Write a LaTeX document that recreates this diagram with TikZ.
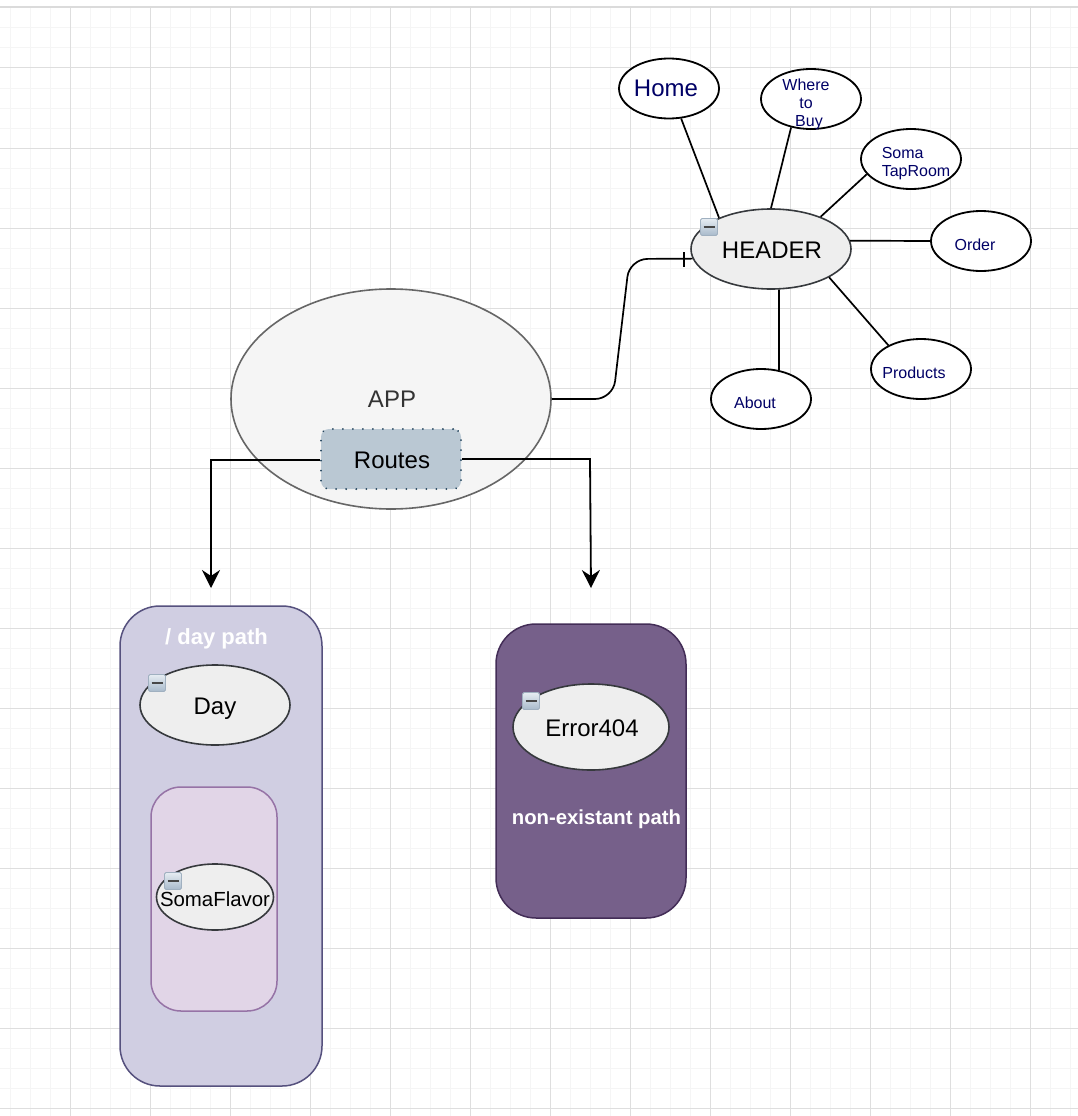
\documentclass[tikz,border=0pt]{standalone}
\usepackage{fontspec}
\setmainfont{Liberation Sans}
\usetikzlibrary{arrows.meta,shapes.geometric}
\definecolor{leafblue}{HTML}{000066}
\definecolor{compfill}{HTML}{EEEEEE}
\definecolor{compline}{HTML}{36393D}
\definecolor{appfill}{HTML}{F5F5F5}
\definecolor{appline}{HTML}{666666}
\definecolor{apptext}{HTML}{333333}
\definecolor{routefill}{HTML}{BAC8D3}
\definecolor{routeline}{HTML}{23445D}
\definecolor{dayfill}{HTML}{D0CEE2}
\definecolor{dayline}{HTML}{56517E}
\definecolor{flavorfill}{HTML}{E1D5E7}
\definecolor{flavorline}{HTML}{9673A6}
\definecolor{errorfill}{HTML}{76608A}
\definecolor{errorline}{HTML}{432D57}
\definecolor{icontop}{HTML}{E6ECF2}
\definecolor{iconbottom}{HTML}{A8BACB}
\definecolor{iconedge}{HTML}{A0B0C0}
\tikzset{
  fs/.style={font=\fontsize{#1}{#1}\selectfont},
  fsb/.style={font=\fontsize{#1}{#1}\selectfont\bfseries},
  leaf/.style={ellipse,draw=black,fill=white,line width=1.8pt,minimum width=100pt,minimum height=60pt,inner sep=0pt},
  leaftext/.style={text=leafblue,align=center,inner sep=0pt,font=\fontsize{16}{18}\selectfont},
  comp/.style={ellipse,draw=compline,fill=compfill,line width=1.6pt,inner sep=0pt,text=black,fs=24,text height=18pt,text depth=0pt},
  group/.style={rectangle,inner sep=0pt,line width=1.5pt},
  link/.style={draw=black,line width=1.7pt},
  route/.style={draw=black,line width=1.8pt,-{Stealth[length=18pt,width=18pt,inset=6pt]}},
  icon/.style={rectangle,rounded corners=1.5pt,minimum size=17pt,inner sep=0pt,draw=iconedge,line width=.9pt,top color=icontop,bottom color=iconbottom},
  iconbar/.style={draw=black!72,line width=2.4pt},
  minorgrid/.style={draw=black!4,line width=1pt},
  majorgrid/.style={draw=black!13,line width=1pt},
}
\newcommand{\minusicon}[3]{%
  \node[icon] (#1) at (#2,#3) {};
  \draw[iconbar] ([xshift=-5.5pt]#1.center) -- ([xshift=5.5pt]#1.center);
}
\begin{document}
\begin{tikzpicture}[x=1pt,y=-1pt]
\useasboundingbox (0,0) rectangle (1078,1116);
\fill[white] (0,0) rectangle (1078,1116);
% grid
\foreach \x in {10,30,...,1070} \draw[minorgrid] (\x,8) -- (\x,1116);
\foreach \y in {28,48,...,1108} \draw[minorgrid] (0,\y) -- (1078,\y);
\foreach \x in {70,150,...,1070} \draw[majorgrid] (\x,8) -- (\x,1116);
\foreach \y in {68,148,...,1108} \draw[majorgrid] (0,\y) -- (1078,\y);
\draw[draw=black!14,line width=2pt] (0,7) -- (1078,7);

% APP
\node[ellipse,draw=appline,fill=appfill,line width=1.6pt,minimum width=320pt,minimum height=220pt,inner sep=0pt] (app) at (391,399) {};
\node[text=apptext,fs=24,inner sep=0pt] (applabel) at (392,399) {APP};
\node[rectangle,rounded corners=8pt,draw=routeline,fill=routefill,dash pattern=on 0.01pt off 10pt,line cap=round,line width=2pt,minimum width=140pt,minimum height=60pt,inner sep=0pt,fs=24,text=black,text height=18pt,text depth=0pt] (routes) at (391,459) {\hspace*{2pt}Routes};

% leaves
\node[leaf] (home) at (669,88.5) {};
\node[leaf] (where) at (811,99) {};
\node[leaf] (soma) at (911,159) {};
\node[leaf] (order) at (981,241) {};
\node[leaf] (products) at (921,369) {};
\node[leaf] (about) at (761,399) {};
\node[comp,minimum width=160pt,minimum height=80pt] (header) at (771,249) {\makebox[0pt]{\hspace*{2pt}HEADER}};

\node[leaftext,fs=24] (hometext) at (666,88) {Home};
\node[leaftext] (wheretext) at (806,104) {Where\\to\\\hspace*{6pt}Buy};
\node[leaftext,align=left,font=\fontsize{16}{17.5}\selectfont] (somatext) at (916,163.5) {Soma\\TapRoom};
\node[leaftext] (ordertext) at (975,245) {Order};
\node[leaftext] (productstext) at (914,373) {Products};
\node[leaftext] (abouttext) at (755,403) {About};

% leaf links
\draw[link] (home.292) -- (header.149);
\draw[link] (where.235) -- (header.90);
\draw[link] (soma.199) -- (header.33);
\draw[link] (order.180) -- (header.6);
\draw[link] (about.58) -- (header.281);
\draw[link] (products.144) -- (header.-26);

% app to header
\draw[link,rounded corners=18pt] (app.east) -- (613,399) -- (629.5,259) -- (header.187);
\coordinate (ticktop) at (684,252);
\coordinate (tickbot) at (684,267);
\draw[draw=black,line width=1.2pt] (ticktop) -- (tickbot);

% groups
\node[group,rounded corners=40pt,draw=dayline,fill=dayfill,minimum width=202pt,minimum height=480pt] (daygroup) at (221,846) {};
\node[text=white,fsb=22,inner sep=0pt] (daylabel) at (216.5,639) {/ day path};
\node[group,rounded corners=30pt,draw=flavorline,fill=flavorfill,minimum width=126pt,minimum height=224pt] (flavorgroup) at (214,899) {};
\node[group,rounded corners=40pt,draw=errorline,fill=errorfill,minimum width=190pt,minimum height=294pt] (errorgroup) at (591,771) {};
\node[text=white,fsb=20.3,inner sep=0pt] (errorlabel) at (596.5,819) {non-existant path};

\node[comp,minimum width=150pt,minimum height=80pt] (day) at (215,705) {\makebox[0pt]{Day}};
\node[comp,minimum width=117pt,minimum height=66pt,fs=20.4] (flavor) at (215,897) {\makebox[0pt]{SomaFlavor}};
\node[comp,minimum width=156pt,minimum height=86pt] (error) at (591,727) {\makebox[0pt]{\hspace*{2pt}Error404}};

% routes
\coordinate (leftend) at (211,588);
\coordinate (rightend) at (591,588);
\coordinate (leftbend) at (211,460);
\coordinate (rightbend) at (590,459);
\draw[route] ([yshift=-1pt]routes.west) -- (leftbend) -- (leftend);
\draw[route] (routes.east) -- (rightbend) -- (rightend);

% icons
\minusicon{iconheader}{709}{227}
\minusicon{iconday}{157}{683}
\minusicon{iconflavor}{173}{881}
\minusicon{iconerror}{531}{701}
\end{tikzpicture}
\end{document}
